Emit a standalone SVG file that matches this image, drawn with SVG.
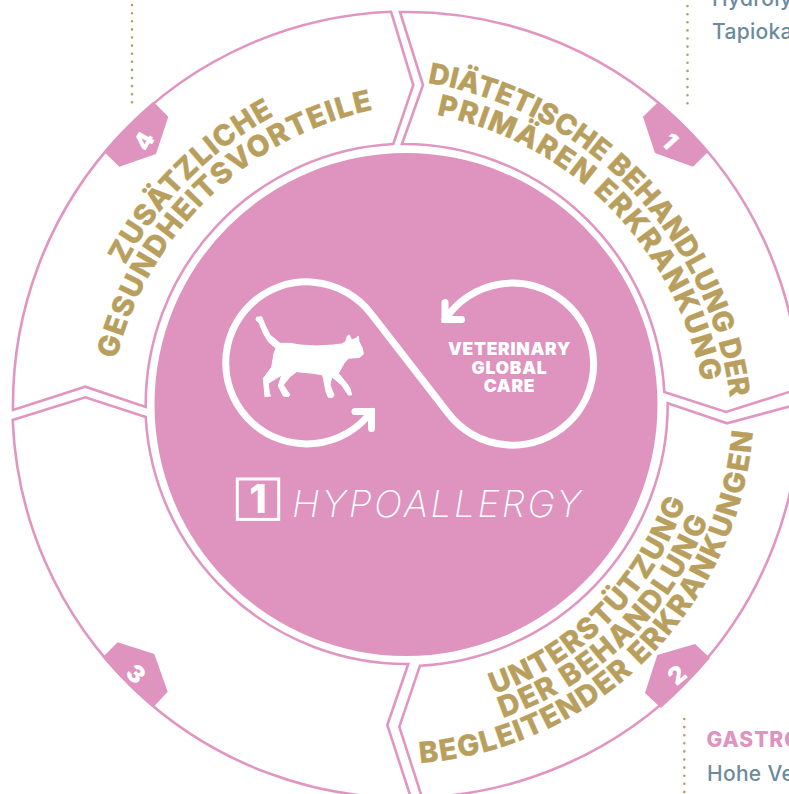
<svg xmlns="http://www.w3.org/2000/svg" width="789" height="794" viewBox="0 0 789 794">
<style>
.seg{fill:#fff;stroke:#e196c2;stroke-width:2.6}
.badge{fill:#df93bf}
.num{font-family:Inter,"Liberation Sans",sans-serif;font-weight:900;font-size:24px;fill:#fff;text-anchor:middle}
.lab{font-family:Inter,"Liberation Sans",sans-serif;font-weight:800;font-size:29px;fill:#b89f5e;stroke:#b89f5e;stroke-width:.4;text-anchor:middle}
.body{font-family:Inter,"Liberation Sans",sans-serif;font-size:21px;letter-spacing:.3px;fill:#6b8b9d;font-weight:500}
.dot{fill:none;stroke:#b89f5e;stroke-width:2.6;stroke-linecap:round;stroke-dasharray:0 8.1}
.loop{fill:none;stroke:#fff;stroke-width:7;stroke-linecap:round;stroke-linejoin:miter}
.vgc{font-family:Inter,"Liberation Sans",sans-serif;font-weight:900;font-size:17.5px;letter-spacing:.7px;fill:#fff;text-anchor:middle}
</style>
<defs>
<path id="t1a" d="M428 83A365 365 0 0 1 730 397"/>
<path id="t1b" d="M437 115A338 338 0 0 1 702 383"/>
<path id="t2a" d="M497 693A310 310 0 0 0 685 503"/>
<path id="t2b" d="M505 717A336 336 0 0 0 708 520"/>
<path id="t2c" d="M420 763A362 362 0 0 0 753 430"/>
<path id="t4a" d="M128 260A365 365 0 0 1 270 118"/>
<path id="t4b" d="M117 357A338 338 0 0 1 372 110"/>
</defs>
<rect width="789" height="794" fill="#fff"/>
<g id="connectors">
<line class="dot" x1="132" y1="102.3" x2="132" y2="0"/>
<line class="dot" x1="687.5" y1="103.3" x2="687.5" y2="0"/>
<line class="dot" x1="684.3" y1="719" x2="684.3" y2="794"/>
</g>
<g id="node-4">
<path class="seg" d="M13 410A393.5 393.5 0 0 1 391 11.7L413.3 85L393.3 144A261.5 261.5 0 0 0 145.7 407L85.3 386.7Z"/>
<path class="badge" d="M153.3 101.7L168.3 116.7L156 154L119.3 166.7L104 151.7Q127 124 153.3 101.7Z"/>
<text class="num" transform="translate(144 141) rotate(-60)" y="8.5">4</text>
<text class="lab" style="letter-spacing:1px"><textPath href="#t4a" startOffset="50%">ZUSÄTZLICHE</textPath></text>
<text class="lab" style="letter-spacing:1.4px"><textPath href="#t4b" startOffset="50%">GESUNDHEITSVORTEILE</textPath></text>
</g>
<g id="node-1">
<path class="seg" d="M400 12A393.5 393.5 0 0 1 800 388.5L726 412L664.3 392A261.5 261.5 0 0 0 402 144L423 85Z"/>
<path class="badge" d="M658.5 101.7L643 116.7L655 153L693 166.7L708.3 151.7Q685 124 658.5 101.7Z"/>
<text class="num" transform="translate(670 141) rotate(48)" y="8.5">1</text>
<text class="lab" style="font-size:28.5px;letter-spacing:.2px"><textPath href="#t1a" startOffset="50%">DIÄTETISCHE BEHANDLUNG DER</textPath></text>
<text class="lab" style="letter-spacing:1.6px"><textPath href="#t1b" startOffset="50%">PRIMÄREN ERKRANKUNG</textPath></text>
</g>
<g id="node-2">
<path class="seg" d="M667.7 403.3L727 423.3L800 403.7A393.5 393.5 0 0 1 422 797.5L399.3 726.7L420 665.7A261.5 261.5 0 0 0 667.7 403.3Z"/>
<path class="badge" d="M695 644L710 658Q687 685 661 708L645 693L657.3 655Z"/>
<text class="num" transform="translate(677 675) rotate(-40)" y="8.5">2</text>
<text class="lab" style="letter-spacing:1.45px"><textPath href="#t2a" startOffset="50%">UNTERSTÜTZUNG</textPath></text>
<text class="lab" style="letter-spacing:1.9px"><textPath href="#t2b" startOffset="50%">DER BEHANDLUNG</textPath></text>
<text class="lab" style="letter-spacing:1.55px"><textPath href="#t2c" startOffset="50%">BEGLEITENDER ERKRANKUNGEN</textPath></text>
</g>
<g id="node-3">
<path class="seg" d="M12.7 420A393.5 393.5 0 0 0 411 798L387.3 725L408.3 664A261.5 261.5 0 0 1 145.7 417L85.3 397.3Z"/>
<path class="badge" d="M117.7 642.3L154.3 654L167.7 691.7L153.3 707.3Q126 685 102.7 657.3Z"/>
<text class="num" transform="translate(136 674) rotate(45)" y="8.5">3</text>
</g>
<g id="node-center">
<circle cx="406" cy="404.5" r="251.5" fill="#df93bf"/>
<path class="loop" d="M371.5 411.5A81 81 0 1 1 371 313.6L448 413A81 81 0 1 0 445 319.5"/>
<path class="loop" d="M355 411.5H371.5V428.5"/>
<path class="loop" d="M445 302.5V319.5H461.5"/>
<path transform="translate(200 260) scale(.33333)" fill="#fff" stroke="#fff" stroke-width="3" stroke-linejoin="round" d="M170 172L185 170L195 195L210 225L240 250L270 250L300 255L350 258L400 255L425 252L437 245L442 228L448 225L455 240L468 235L475 228L477 245L487 265L490 282L480 292L445 295L432 310L415 340L440 370L450 385L455 405L445 405L425 375L395 350L390 375L402 405L398 412L385 412L378 395L368 345L340 340L290 335L270 350L250 375L270 405L265 410L250 408L235 378L245 345L205 370L208 400L212 408L195 410L190 355L215 322L222 280L228 265L205 245L190 220L178 190L168 180Z"/>
<text class="vgc" x="509.5" y="355">VETERINARY</text>
<text class="vgc" x="509.5" y="373.5">GLOBAL</text>
<text class="vgc" x="509.5" y="392">CARE</text>
<rect x="237.3" y="479" width="41.4" height="40.4" fill="none" stroke="#fff" stroke-width="3"/>
<text x="258" y="512.7" text-anchor="middle" font-family="Inter,'Liberation Sans',sans-serif" font-weight="800" font-size="39" fill="#fff">1</text>
<text x="292" y="516.7" font-family="Inter,'Liberation Sans',sans-serif" font-weight="200" font-style="italic" font-size="37" letter-spacing="2.6" fill="#fff">HYPOALLERGY</text>
</g>
<g id="side-text">
<text class="body" x="712" y="6">Hydroly</text>
<text class="body" x="712" y="39.3">Tapioka</text>
<text class="body" x="706.5" y="747" style="fill:#df93bf;font-weight:800;letter-spacing:1px">GASTRO</text>
<text class="body" x="707" y="780.7">Hohe Ve</text>
</g>
</svg>
